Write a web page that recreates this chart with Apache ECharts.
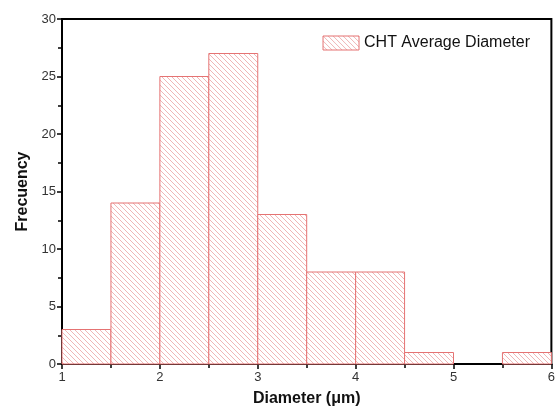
<!DOCTYPE html>
<html><head><meta charset="utf-8">
<script src="https://cdn.jsdelivr.net/npm/echarts@6/dist/echarts.min.js"></script>
<style>html,body{margin:0;padding:0;background:#fff}#c{width:558px;height:412px}</style>
</head><body><div id="c"></div>
<script>
var binStarts = [1, 1.5, 2, 2.5, 3, 3.5, 4, 4.5, 5, 5.5];
var binWidth = 0.5;
var frequencies = [3, 14, 25, 27, 13, 8, 8, 1, 0, 1];
var seriesName = 'CHT Average Diameter';

function hatch() {
  var s = 5, c = document.createElement('canvas');
  c.width = s; c.height = s;
  var g = c.getContext('2d');
  g.fillStyle = '#fff'; g.fillRect(0, 0, s, s);
  g.strokeStyle = 'rgba(228,120,120,0.6)'; g.lineWidth = 0.9;
  g.beginPath();
  g.moveTo(-1, -1); g.lineTo(s + 1, s + 1);
  g.moveTo(-1, s - 1); g.lineTo(1, s + 1);
  g.moveTo(s - 1, -1); g.lineTo(s + 1, 1);
  g.stroke();
  return c;
}
var pat = { image: hatch(), repeat: 'repeat' };
var data = binStarts.map(function (b, i) { return [b, b + binWidth, frequencies[i]]; });
var font = 'Liberation Sans, Arial';

var chart = echarts.init(document.getElementById('c'));
chart.setOption({
  animation: false,
  grid: { left: 62, top: 19, right: 5, bottom: 45, show: true, borderColor: '#000', borderWidth: 2, backgroundColor: 'transparent' },
  legend: {
    data: [{ name: seriesName, icon: 'rect', itemStyle: { color: pat, borderColor: '#e57373', borderWidth: 1 } }],
    right: 23, top: 30, itemWidth: 36, itemHeight: 14, itemGap: 5,
    textStyle: { fontFamily: font, fontSize: 16, color: '#111', padding: [0, 0, 0, 0] }
  },
  xAxis: {
    type: 'value', min: 1, max: 6, interval: 1,
    name: 'Diameter (\u03bcm)', nameLocation: 'middle', nameGap: 27,
    nameTextStyle: { fontFamily: font, fontSize: 16, fontWeight: 'bold', color: '#111' },
    axisLine: { lineStyle: { color: '#000', width: 2 } },
    axisTick: { show: true, length: 5, lineStyle: { color: '#000', width: 1.5 } },
    minorTick: { show: true, splitNumber: 2, length: 4, lineStyle: { color: '#000', width: 1.5 } },
    axisLabel: { fontFamily: font, fontSize: 13, color: '#333', margin: 7 },
    splitLine: { show: false }
  },
  yAxis: {
    type: 'value', min: 0, max: 30, interval: 5,
    name: 'Frecuency', nameLocation: 'middle', nameGap: 29,
    nameTextStyle: { fontFamily: font, fontSize: 16, fontWeight: 'bold', color: '#111' },
    axisLine: { show: true, lineStyle: { color: '#000', width: 2 } },
    axisTick: { show: true, length: 5, lineStyle: { color: '#000', width: 1.5 } },
    minorTick: { show: true, splitNumber: 2, length: 4, lineStyle: { color: '#000', width: 1.5 } },
    axisLabel: { fontFamily: font, fontSize: 13, color: '#333', margin: 6 },
    splitLine: { show: false }
  },
  series: [{
    name: seriesName, type: 'custom', data: data,
    itemStyle: { color: pat, borderColor: '#e57373', borderWidth: 1 },
    encode: { x: [0, 1], y: 2 },
    renderItem: function (params, api) {
      var v = api.value(2);
      if (!v) return null;
      var p0 = api.coord([api.value(0), 0]);
      var p1 = api.coord([api.value(1), v]);
      return {
        type: 'rect',
        shape: { x: p0[0], y: p1[1], width: p1[0] - p0[0], height: p0[1] - p1[1] },
        style: { fill: pat, stroke: '#e57373', lineWidth: 1 }
      };
    }
  }]
});
</script></body></html>
